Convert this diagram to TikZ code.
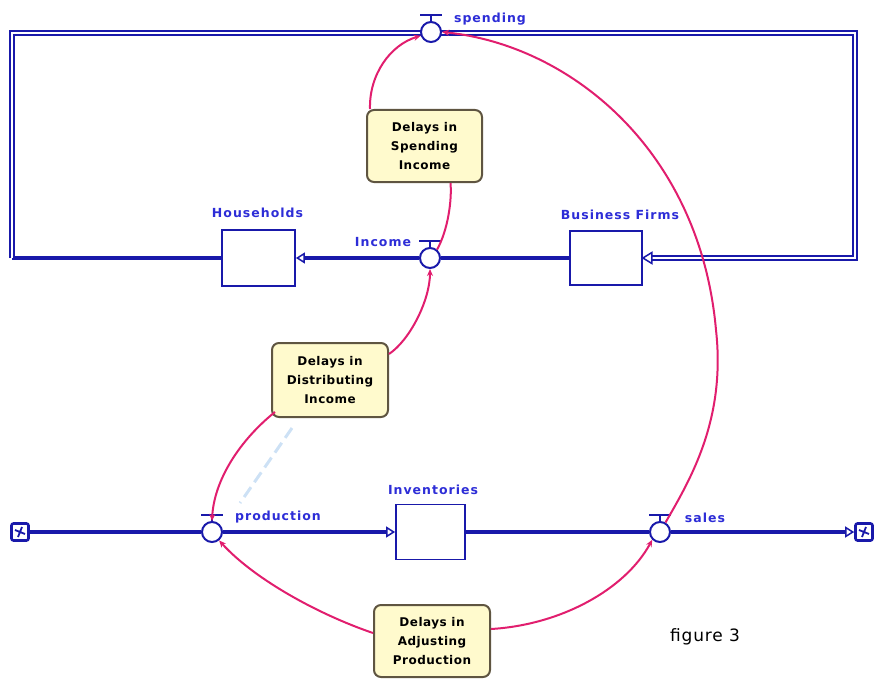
\documentclass[tikz,border=0pt]{standalone}
\usepackage{fontspec}
\usetikzlibrary{arrows.meta}
\newfontfamily\labfont[LetterSpace=8]{DejaVu Sans}
\newfontfamily\boxfont[LetterSpace=4]{DejaVu Sans}
\newfontfamily\figfont[LetterSpace=5]{DejaVu Sans}
\definecolor{pipeblue}{RGB}{25,25,170}
\definecolor{labblue}{RGB}{45,45,215}
\definecolor{connc}{RGB}{225,30,110}
\definecolor{boxfill}{RGB}{255,250,205}
\definecolor{boxedge}{RGB}{95,85,65}
\definecolor{faintc}{RGB}{205,225,245}
\pgfdeclarelayer{bg}
\pgfsetlayers{bg,main}
\newcommand\vhandle[1]{%
  \draw[pipeblue, line width=2.8pt] ([xshift=-11pt,yshift=17pt]#1.center) -- ([xshift=11pt,yshift=17pt]#1.center);
  \draw[pipeblue, line width=1.8pt] ([yshift=16pt]#1.center) -- ([yshift=9pt]#1.center);}
\newcommand\cswirl[1]{%
  \draw[pipeblue, line width=1.8pt] (#1.center) -- ([xshift=-5pt,yshift=2pt]#1.center)
    (#1.center) -- ([xshift=2pt,yshift=5pt]#1.center)
    (#1.center) -- ([xshift=5pt,yshift=-2pt]#1.center)
    (#1.center) -- ([xshift=-2pt,yshift=-5pt]#1.center);}
\begin{document}
\begin{tikzpicture}[x=1pt,y=-1pt,
  stock/.style={rectangle, draw=pipeblue, line width=1.8pt, fill=white, inner sep=0pt},
  valvec/.style={circle, draw=pipeblue, line width=2pt, fill=white, minimum size=20pt, inner sep=0pt},
  cloudbox/.style={rectangle, draw=pipeblue, line width=2.6pt, fill=white, rounded corners=2pt, minimum size=17pt, inner sep=0pt},
  lab/.style={text=labblue, font=\labfont\bfseries\fontsize{12.5}{14}\selectfont, inner sep=0pt},
  figlab/.style={text=black, font=\figfont\fontsize{17}{19}\selectfont, inner sep=0pt},
  delay/.style={rectangle, draw=boxedge, line width=2pt, fill=boxfill, rounded corners=7pt,
    minimum width=115pt, minimum height=72pt, align=center,
    font=\boxfont\bfseries\fontsize{12}{19}\selectfont, inner sep=0pt},
  pipe/.style={draw=pipeblue, line width=3.6pt},
  dbl/.style={draw=pipeblue, double=white, double distance=2pt, line width=1.7pt},
  conn/.style={draw=connc, line width=2pt},
  cend/.style={-{Stealth[length=7pt,width=6pt]}},
  openarr/.style={-{Triangle[fill=white,length=9pt,width=11pt,line width=1.5pt]}}
]
\useasboundingbox (0,0) rectangle (875,682);

% stocks
\node[stock, minimum width=73pt, minimum height=56pt] (hh) at (258.5,258) {};
\node[stock, minimum width=72pt, minimum height=54pt] (bf) at (606,258) {};
\node[stock, minimum width=69pt, minimum height=55pt] (inv) at (430.5,532) {};

% valves
\node[valvec] (sp) at (431,32) {};
\node[valvec] (inc) at (430,258) {};
\node[valvec] (prod) at (212,532) {};
\node[valvec] (sa) at (660,532) {};
\vhandle{sp}
\vhandle{inc}
\vhandle{prod}
\vhandle{sa}

% clouds
\node[cloudbox] (src) at (20,532) {};
\node[cloudbox] (snk) at (864,532) {};
\cswirl{src}
\cswirl{snk}

% delay boxes
\node[delay] (sb) at (424.5,146) {Delays in\\Spending\\Income};
\node[delay, minimum width=116pt, minimum height=74pt] (db) at (330,380) {Delays in\\Distributing\\Income};
\node[delay, minimum width=116pt] (ab) at (432,641) {Delays in\\Adjusting\\Production};

% labels
\node[lab] (lsp) at (490,19) {spending};
\node[lab] (lhh) at (257.5,213) {Households};
\node[lab] (linc) at (383,242) {Income};
\node[lab] (lbf) at (620,215) {Business Firms};
\node[lab] (lprod) at (278,517) {production};
\node[lab] (linv) at (433,490) {Inventories};
\node[lab] (lsa) at (705,518) {sales};
\node[figlab] (fig) at (705,637) {figure 3};

% pipes (background)
\begin{pgfonlayer}{bg}
\coordinate (lb) at (12,258);
\coordinate (lt) at (12,33);
\coordinate (rt) at (855,33);
\coordinate (rb) at (855,258);
\draw[pipe] (hh.west) -- (lb);
\draw[dbl] (lb) -- (lt) -- (rt) -- (rb) -- ([xshift=8pt]bf.east);
\draw[pipe] (src.east) -- (prod.west);
\draw[pipe, openarr] (prod.east) -- (inv.west);
\draw[pipe] (inv.east) -- (sa.west);
\draw[pipe, openarr] (sa.east) -- (snk.west);
\draw[pipe] (bf.west) -- (inc.east);
\draw[pipe, openarr] (inc.west) -- (hh.east);
\draw[faintc, line width=3pt, dash pattern=on 12pt off 6pt] ([xshift=-38pt,yshift=-10pt]db.south) -- ([xshift=28pt,yshift=18pt]prod.north);
\end{pgfonlayer}
\draw[pipeblue, line width=1.5pt, fill=white] (bf.east) -- ++(9,-5.5) -- ++(0,11) -- cycle;

% connectors
\coordinate (mid) at (716,330);
\draw[conn, cend] ([xshift=4pt]sb.north west) .. controls (369,75) and (390,45) .. (sp.200);
\draw[conn] ([xshift=26pt]sb.south) .. controls (452,200) and (448,230) .. (inc.50);
\draw[conn, cend] ([yshift=-12pt]db.north east) .. controls (410,340) and (430,300) .. (inc.south);
\draw[conn, cend] ([xshift=4pt,yshift=6pt]db.south west) .. controls (240,440) and (214,480) .. (prod.north);
\draw[conn, cend] ([yshift=8pt]ab.west) .. controls (320,615) and (255,580) .. (prod.-50);
\draw[conn, cend] ([yshift=12pt]ab.east) .. controls (560,625) and (625,590) .. (sa.225);
\draw[conn, cend] (sa.60) .. controls (690,480) and (726,420) .. (mid) .. controls (700,150) and (570,45) .. (sp.east);
\end{tikzpicture}
\end{document}
